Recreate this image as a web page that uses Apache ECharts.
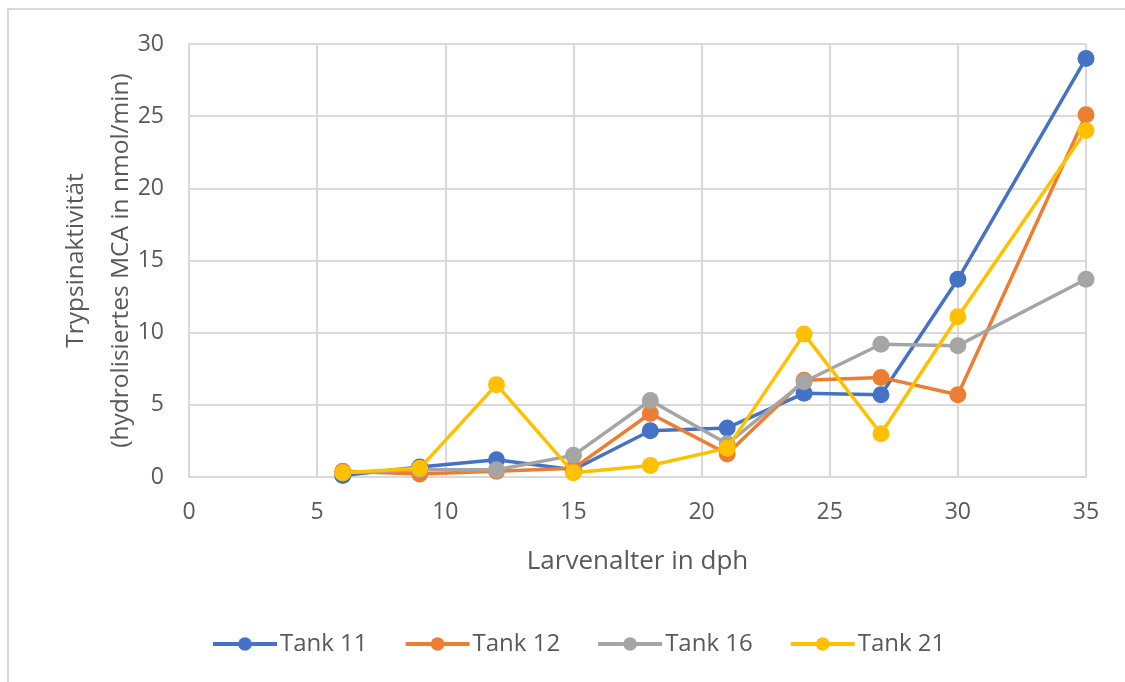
<!DOCTYPE html>
<html>
<head>
<meta charset="utf-8">
<script src="https://cdn.jsdelivr.net/npm/echarts@6/dist/echarts.min.js"></script>
<style>
  html, body { margin: 0; padding: 0; background: #ffffff; }
  #chart { width: 1125px; height: 682px; }
</style>
</head>
<body>
<div id="chart"></div>
<script>
// Larval age (days post hatch) at each sampling point
const larvenalter = [6, 9, 12, 15, 18, 21, 24, 27, 30, 35];

// Trypsin activity per tank (hydrolysed MCA in nmol/min)
const tank11 = [0.1, 0.7, 1.2, 0.5, 3.2, 3.4, 5.8, 5.7, 13.7, 29.0];
const tank12 = [0.4, 0.2, 0.4, 0.6, 4.4, 1.6, 6.7, 6.9, 5.7, 25.1];
const tank16 = [0.3, 0.5, 0.5, 1.5, 5.3, 2.3, 6.6, 9.2, 9.1, 13.7];
const tank21 = [0.3, 0.6, 6.4, 0.3, 0.8, 2.0, 9.9, 3.0, 11.1, 24.0];

const seriesNames = ['Tank 11', 'Tank 12', 'Tank 16', 'Tank 21'];
const seriesValues = [tank11, tank12, tank16, tank21];
const seriesColors = ['#4472C4', '#ED7D31', '#A5A5A5', '#FFC000'];

const FONT = '"Open Sans", "Noto Sans", sans-serif';
const TEXT = '#595959';
const GRID = '#d9d9d9';

const chart = echarts.init(document.getElementById('chart'), null, { renderer: 'canvas' });

const series = seriesNames.map((name, i) => ({
  name: name,
  type: 'line',
  data: larvenalter.map((x, j) => [x, seriesValues[i][j]]),
  symbol: 'circle',
  symbolSize: 17,
  showSymbol: true,
  lineStyle: { width: 3.5, color: seriesColors[i] },
  itemStyle: { color: seriesColors[i] },
  emphasis: { disabled: true },
  z: 2 + i
}));

chart.setOption({
  animation: false,
  backgroundColor: '#ffffff',
  graphic: [{
    type: 'rect',
    shape: { x: 8, y: 9, width: 1200, height: 800 },
    style: { fill: 'none', stroke: '#d9d9d9', lineWidth: 2 },
    silent: true,
    z: -1
  }],
  grid: { left: 189, top: 44, width: 897, height: 433, containLabel: false },
  xAxis: {
    type: 'value',
    min: 0, max: 35, interval: 5,
    name: 'Larvenalter in dph',
    nameLocation: 'middle',
    nameGap: 72,
    nameMoveOverlap: false,
    nameTextStyle: { color: TEXT, fontFamily: FONT, fontSize: 26 },
    axisLine: { show: true, lineStyle: { color: GRID, width: 2 } },
    axisTick: { show: false },
    axisLabel: { color: TEXT, fontFamily: FONT, fontSize: 23, margin: 24 },
    splitLine: { show: true, lineStyle: { color: GRID, width: 2 } }
  },
  yAxis: {
    type: 'value',
    min: 0, max: 30, interval: 5,
    name: 'Trypsinaktivität\n(hydrolisiertes MCA in nmol/min)',
    nameLocation: 'middle',
    nameGap: 45,
    nameMoveOverlap: false,
    nameRotate: 90,
    nameTextStyle: { color: TEXT, fontFamily: FONT, fontSize: 24.5, lineHeight: 45, align: 'center' },
    axisLine: { show: true, lineStyle: { color: GRID, width: 2 } },
    axisTick: { show: false },
    axisLabel: { color: TEXT, fontFamily: FONT, fontSize: 23, margin: 25 },
    splitLine: { show: true, lineStyle: { color: GRID, width: 2 } }
  },
  legend: {
    data: seriesNames,
    left: 206,
    top: 627,
    itemWidth: 64,
    itemHeight: 17,
    itemGap: 36,
    lineStyle: { width: 4 },
    textStyle: { color: TEXT, fontFamily: FONT, fontSize: 24, padding: [0, 0, 0, -2] },
    selectedMode: false
  },
  series: series
});
</script>
</body>
</html>
